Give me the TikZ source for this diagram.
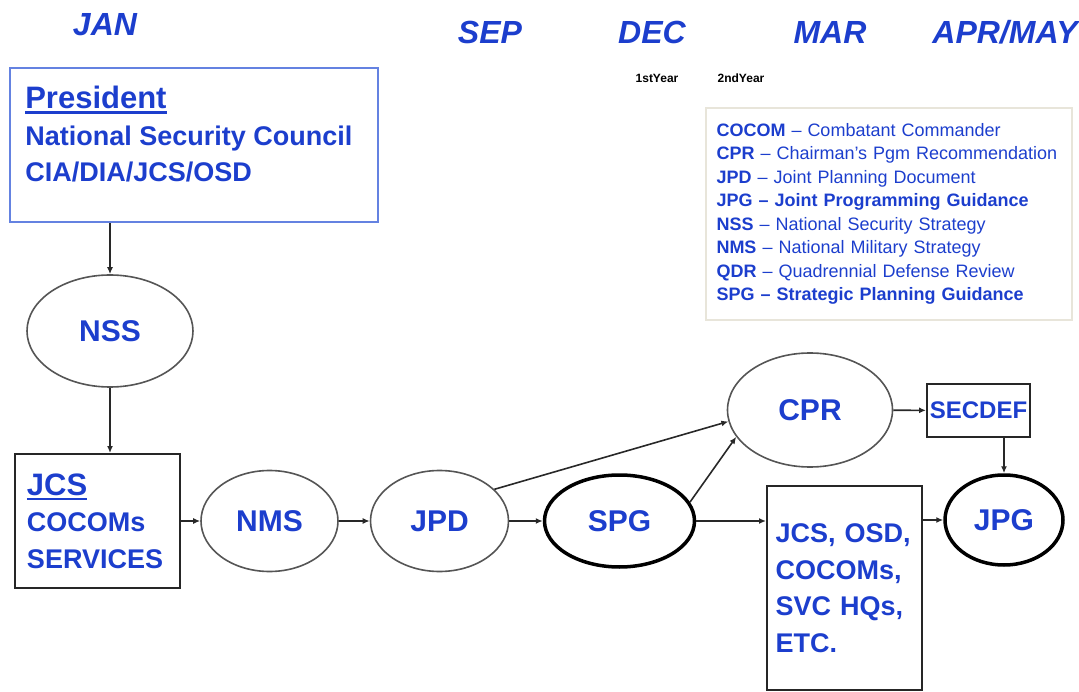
\documentclass[tikz,border=0pt]{standalone}
\usepackage{fontspec}
\setmainfont{Liberation Sans}
\usepackage{tikz}
\usetikzlibrary{arrows.meta, shapes.geometric, positioning}
\definecolor{chartblue}{RGB}{28,62,205}
\definecolor{presblue}{RGB}{100,130,225}
\definecolor{ovalgray}{RGB}{85,85,85}
\definecolor{linkgray}{RGB}{40,40,40}
\definecolor{legendrim}{RGB}{232,229,218}
% thick underline for the headings in the boxes
\newcommand{\ulword}[1]{\setbox0\hbox{#1}\rlap{\rule[-5pt]{\wd0}{2.6pt}}\box0}

\begin{document}
\begin{tikzpicture}[x=1pt, y=-1pt, >={Latex[length=7pt,width=6pt]}, thick]
% Define styles for months, ovals, boxes and connectors
\tikzstyle{month} = [font=\fontsize{32}{38}\selectfont\bfseries\itshape, text=chartblue, inner sep=0pt]
\tikzstyle{yearlbl} = [font=\fontsize{12}{14}\selectfont\bfseries, text=black, inner sep=0pt]
\tikzstyle{oval} = [draw=ovalgray, line width=1.6pt, ellipse, inner sep=0pt, text=chartblue, font=\fontsize{30}{36}\selectfont\bfseries]
\tikzstyle{heavy} = [oval, draw=black, line width=3.5pt]
\tikzstyle{block} = [draw=black!85, line width=2pt, rectangle, inner sep=0pt, text=chartblue, font=\fontsize{27}{36.5}\selectfont\bfseries]
\tikzstyle{link} = [draw=linkgray, line width=1.6pt, ->]

\useasboundingbox (0,0) rectangle (1079,692);

% Months along the top
\node [month] (jan) at (105,25) {JAN};
\node [month] (sep) at (490,32) {SEP};
\node [month, right of=sep, node distance=162pt] (dec) {DEC};
\node [month, right of=dec, node distance=178pt] (mar) {MAR};
\node [month, right of=mar, node distance=175pt] (aprmay) {APR/MAY};
\node [yearlbl] (year1) at (657,78) {1stYear};
\node [yearlbl, right of=year1, node distance=84pt] (year2) {2ndYear};

% Legend
\node [draw=legendrim, line width=2pt, minimum width=366pt, minimum height=212pt, inner sep=0pt,
       text width=345pt, align=left, text=chartblue, font=\fontsize{18}{23.5}\selectfont] (legend) at (889,214)
  {\textbf{COCOM} -- Combatant Commander\\
   \textbf{CPR} -- Chairman's Pgm Recommendation\\
   \textbf{JPD} -- Joint Planning Document\\
   \textbf{JPG -- Joint Programming Guidance}\\
   \textbf{NSS} -- National Security Strategy\\
   \textbf{NMS} -- National Military Strategy\\
   \textbf{QDR} -- Quadrennial Defense Review\\
   \textbf{SPG -- Strategic Planning Guidance}};

% President box
\node [block, draw=presblue, line width=2.2pt, minimum width=368pt, minimum height=154pt] (presbox) at (194,145) {};
\node [anchor=north west, inner sep=0pt, align=left, text=chartblue, font=\fontsize{27}{36.5}\selectfont\bfseries]
  (prestext) at ([shift={(16,19)}]presbox.north west)
  {{\fontsize{31}{36.5}\selectfont\ulword{President}}\\ National Security Council\\ CIA/DIA/JCS/OSD};

% Nodes placement
\node [oval, minimum width=166pt, minimum height=112pt] (nss) at (110,331) {NSS};
\node [block, minimum width=165pt, minimum height=134pt, text width=141pt, align=left] (jcs) at (97.5,521)
  {{\fontsize{31}{36.5}\selectfont\ulword{JCS}}\\ COCOMs\\ SERVICES};
\node [oval, right of=jcs, node distance=172pt, minimum width=137pt, minimum height=101pt] (nms) {NMS};
\node [oval, right of=nms, node distance=170pt, minimum width=138pt, minimum height=101pt] (jpd) {JPD};
\node [heavy, right of=jpd, node distance=180pt, minimum width=150pt, minimum height=92pt] (spg) {SPG};
\node [oval, minimum width=165pt, minimum height=114pt] (cpr) at (810,410) {CPR};
\node [block, minimum width=103pt, minimum height=53pt, font=\fontsize{24}{29}\selectfont\bfseries] (secdef) at (978.5,410.5) {SECDEF};
\node [block, minimum width=155pt, minimum height=204pt, text width=138pt, align=left] (staffs) at (844.5,588)
  {JCS, OSD,\\ COCOMs,\\ SVC HQs,\\ ETC.};
\node [heavy, minimum width=118pt, minimum height=90pt] (jpg) at (1004,520) {JPG};

% Draw edges
\draw [link] (presbox.south -| nss.north) -- (nss.north);
\draw [link] (nss.south) -- (nss.south |- jcs.north);
\draw [link] (jcs.east) -- (nms.west);
\draw [link] (nms) -- (jpd);
\draw [link] (jpd) -- (spg);
\draw [link] (jpd.30) -- (cpr.188);
\draw [link] (spg.15) -- (cpr.200);
\draw [link] (spg.east) -- (spg.east -| staffs.west);
\draw [link] (staffs.east |- jpg.west) -- (jpg.west);
\draw [link] (cpr) -- (secdef);
\draw [link] (secdef.south -| jpg.north) -- (jpg.north);
\end{tikzpicture}
\end{document}
